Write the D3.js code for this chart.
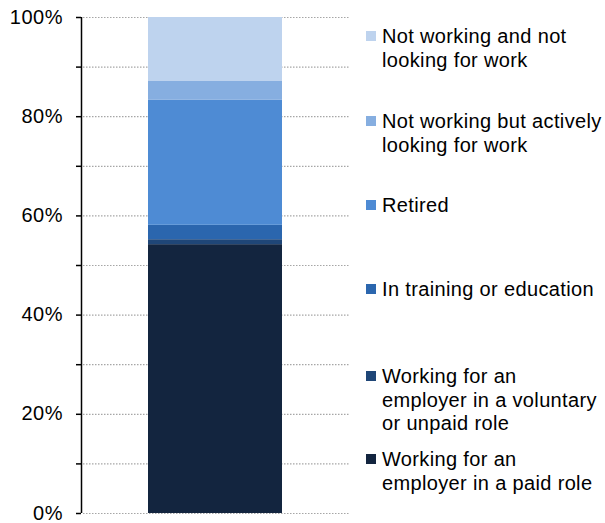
<!DOCTYPE html>
<html>
<head>
<meta charset="utf-8">
<script src="https://cdn.jsdelivr.net/npm/d3@7"></script>
<style>
  html, body { margin: 0; padding: 0; background: #fff; }
  svg { display: block; font-family: Arial, "Liberation Sans", sans-serif; }
</style>
</head>
<body>
<svg id="chart" width="605" height="523"></svg>
<script>
// Data (stacked bottom to top)
const categories = ["All"];
const seriesNames = [
  "Working for an employer in a paid role",
  "Working for an employer in a voluntary or unpaid role",
  "In training or education",
  "Retired",
  "Not working but actively looking for work",
  "Not working and not looking for work"
];
const seriesValues = [54.2, 1.0, 2.9, 25.2, 3.8, 12.9];
const seriesColors = ["#13253f", "#1f4677", "#2b66ae", "#4e8bd4", "#86aee0", "#bed3ee"];
const legendLines = [
  ["Working for an", "employer in a paid role"],
  ["Working for an", "employer in a voluntary", "or unpaid role"],
  ["In training or education"],
  ["Retired"],
  ["Not working but actively", "looking for work"],
  ["Not working and not", "looking for work"]
];
const majorTicks = [0, 20, 40, 60, 80, 100];
const allTicks = [0, 10, 20, 30, 40, 50, 60, 70, 80, 90, 100];

const svg = d3.select("#chart");
const plot = { left: 81, right: 349, top: 17, bottom: 513 };
const FONT = "20px";

const y = d3.scaleLinear().domain([0, 100]).range([plot.bottom, plot.top]);

// Gridlines (dotted)
svg.append("g").selectAll("line").data(allTicks).join("line")
  .attr("x1", plot.left + 2).attr("x2", plot.right)
  .attr("y1", d => y(d) + 0.5).attr("y2", d => y(d) + 0.5)
  .attr("stroke", "#a6a6a6").attr("stroke-width", 1.2)
  .attr("stroke-dasharray", "1.5,1.5");

// Stack
const row = {};
seriesNames.forEach((n, i) => row[n] = seriesValues[i]);
const stack = d3.stack().keys(seriesNames)([row]);

svg.append("g").selectAll("rect").data(stack).join("rect")
  .attr("x", 148)
  .attr("width", 134)
  .attr("y", d => y(d[0][1]))
  .attr("height", d => y(d[0][0]) - y(d[0][1]))
  .attr("fill", (d, i) => seriesColors[i]);

// Axis
const axis = d3.axisLeft(y).tickValues(allTicks).tickSize(5).tickPadding(13)
  .tickFormat(d => majorTicks.includes(d) ? d + "%" : "");
const ag = svg.append("g").attr("transform", `translate(${plot.left},0)`).call(axis);
ag.select(".domain").attr("stroke", "#000").attr("stroke-width", 1.5).attr("d", `M0.5,${plot.bottom}V${plot.top}`);
ag.selectAll(".tick line").attr("stroke", "#000").attr("stroke-width", 1.5);
ag.selectAll(".tick text").attr("font-size", FONT).attr("fill", "#000")
  .attr("letter-spacing", "0.5px")
  .attr("font-family", "Arial, 'Liberation Sans', sans-serif").attr("dy", "0.3em");

// Legend (top to bottom: reverse of stack)
const legendTops = [454, 371, 284, 200, 116, 31];
const lg = svg.append("g");
seriesNames.forEach((n, i) => {
  const g = lg.append("g").attr("transform", `translate(366,${legendTops[i]})`);
  g.append("rect").attr("width", 10).attr("height", 10).attr("fill", seriesColors[i]);
  const t = g.append("text").attr("x", 16).attr("y", 12)
    .attr("font-size", FONT).attr("letter-spacing", "0.35px").attr("fill", "#000");
  legendLines[i].forEach((l, j) => {
    t.append("tspan").attr("x", 16).attr("dy", j === 0 ? 0 : 23.5).text(l);
  });
});
</script>
</body>
</html>
